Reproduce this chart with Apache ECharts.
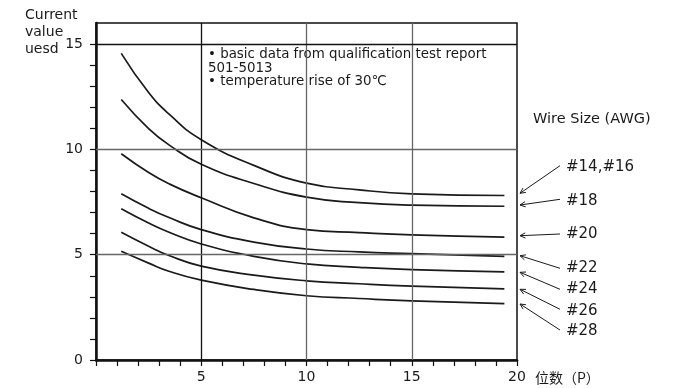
<!DOCTYPE html>
<html>
<head>
<meta charset="utf-8">
<script src="https://cdn.jsdelivr.net/npm/echarts@6/dist/echarts.min.js"></script>
<style>
  html, body { margin: 0; padding: 0; background: #fff; }
  #chart { width: 674px; height: 388px; }
</style>
</head>
<body>
<div id="chart"></div>
<script>
// 位数 (P) where the curves were read
var positions = [1.2, 2.5, 3.5, 5, 7.5, 10, 12.5, 15, 19.4];
var wireSizes = ["#14,#16", "#18", "#20", "#22", "#24", "#26", "#28"];
// current value per wire size
var awg14_16 = [14.56, 12.7, 11.65, 10.46, 9.24, 8.4, 8.08, 7.89, 7.81];
var awg18 = [12.37, 10.99, 10.19, 9.29, 8.38, 7.73, 7.47, 7.35, 7.3];
var awg20 = [9.79, 8.9, 8.35, 7.7, 6.75, 6.19, 6.05, 5.94, 5.83];
var awg22 = [7.89, 7.2, 6.75, 6.19, 5.6, 5.27, 5.13, 5.05, 4.92];
var awg24 = [7.18, 6.5, 6.05, 5.51, 4.92, 4.56, 4.4, 4.29, 4.18];
var awg26 = [6.06, 5.4, 4.95, 4.46, 4.03, 3.76, 3.62, 3.51, 3.38];
var awg28 = [5.16, 4.6, 4.2, 3.79, 3.35, 3.05, 2.92, 2.81, 2.68];
var curves = [awg14_16, awg18, awg20, awg22, awg24, awg26, awg28];

var xTickValues = [0, 1, 2, 3, 4, 5, 6, 7, 8, 9, 10, 11, 12, 13, 14, 15, 16, 17, 18, 19, 20];
var xLabelValues = [5, 10, 15, 20];
var yTickValues = [0, 1, 2, 3, 4, 5, 6, 7, 8, 9, 10, 11, 12, 13, 14, 15];
var yLabelValues = [0, 5, 10, 15];

var FONT = "DejaVu Sans";
var INK = "#1a1a1a";

var chart = echarts.init(document.getElementById("chart"));

// thin leader line with an open arrow head
function arrow(x1, y1, x2, y2) {
  var a = Math.atan2(y1 - y2, x1 - x2);
  var h = 6, s = 0.45;
  var style = { stroke: INK, lineWidth: 1, fill: null };
  return [
    { type: "line", shape: { x1: x1, y1: y1, x2: x2, y2: y2 }, style: style, silent: true },
    {
      type: "polyline",
      shape: {
        points: [
          [x2 + h * Math.cos(a + s), y2 + h * Math.sin(a + s)],
          [x2, y2],
          [x2 + h * Math.cos(a - s), y2 + h * Math.sin(a - s)]
        ]
      },
      style: style,
      silent: true
    }
  ];
}

var labelY = [167.5, 201, 234, 268, 289, 311, 331];
var arrowLines = [
  [560, 165.7, 520, 193.3],
  [560, 199.3, 520, 205],
  [560, 234, 520, 235.7],
  [560, 268.3, 520, 255.7],
  [560, 289.3, 520, 272.3],
  [560, 309.3, 520, 289.3],
  [560, 330, 520, 304]
];

var graphics = [
  {
    type: "text", left: 25, top: 7,
    style: { text: "Current\nvalue\nuesd", font: "14px " + FONT, lineHeight: 17, fill: INK }
  },
  {
    type: "text", left: 208, top: 48,
    style: {
      text: "• basic data from qualification test report\n501-5013\n• temperature rise of 30℃",
      font: "13.4px " + FONT, lineHeight: 13.5, fill: INK
    }
  },
  {
    type: "text", left: 533, top: 112,
    style: { text: "Wire Size (AWG)", font: "14.5px " + FONT, fill: INK }
  }
];
wireSizes.forEach(function (w, i) {
  graphics.push({
    type: "text", x: 566, y: labelY[i],
    style: { text: w, font: "15px " + FONT, fill: INK, verticalAlign: "middle" }
  });
  arrow.apply(null, arrowLines[i]).forEach(function (g) { graphics.push(g); });
});

var series = curves.map(function (vals, i) {
  var s = {
    name: wireSizes[i],
    type: "line",
    data: positions.map(function (x, j) { return [x, vals[j]]; }),
    smooth: 0.5,
    symbol: "none",
    lineStyle: { color: INK, width: 1.7 },
    silent: true,
    z: 3
  };
  if (i === 0) {
    s.markLine = {
      silent: true,
      symbol: ["none", "none"],
      label: { show: false },
      animation: false,
      data: [
        { xAxis: 5, lineStyle: { color: "#111", width: 1.3, type: "solid" } },
        { xAxis: 10, lineStyle: { color: "#666", width: 1.3, type: "solid" } },
        { xAxis: 15, lineStyle: { color: "#666", width: 1.3, type: "solid" } },
        { yAxis: 5, lineStyle: { color: "#666", width: 1.3, type: "solid" } },
        { yAxis: 10, lineStyle: { color: "#666", width: 1.3, type: "solid" } },
        { yAxis: 15, lineStyle: { color: "#111", width: 1.3, type: "solid" } }
      ]
    };
  }
  return s;
});

chart.setOption({
  animation: false,
  textStyle: { fontFamily: FONT },
  grid: {
    left: 96, right: 157, top: 23, bottom: 28,
    show: true, borderColor: "#111", borderWidth: 1.5, backgroundColor: "transparent"
  },
  xAxis: {
    type: "value", min: 0, max: 20, interval: 1,
    name: "位数（P）", nameLocation: "end", nameGap: 18,
    nameTextStyle: {
      fontFamily: "Noto Sans CJK SC", fontSize: 14, color: INK,
      verticalAlign: "top", align: "left", padding: [11, 0, 0, 0]
    },
    axisLine: { lineStyle: { color: "#111", width: 2.5 } },
    axisTick: { length: 6, lineStyle: { color: "#111", width: 1.2 }, customValues: xTickValues },
    axisLabel: { customValues: xLabelValues, margin: 10, fontSize: 14, color: INK },
    splitLine: { show: false }
  },
  yAxis: {
    type: "value", min: 0, max: 16, interval: 1,
    axisLine: { lineStyle: { color: "#111", width: 2.5 } },
    axisTick: { length: 6, lineStyle: { color: "#111", width: 1.2 }, customValues: yTickValues },
    axisLabel: { customValues: yLabelValues, margin: 13, fontSize: 14, color: INK },
    splitLine: { show: false }
  },
  graphic: graphics,
  series: series
});
</script>
</body>
</html>
